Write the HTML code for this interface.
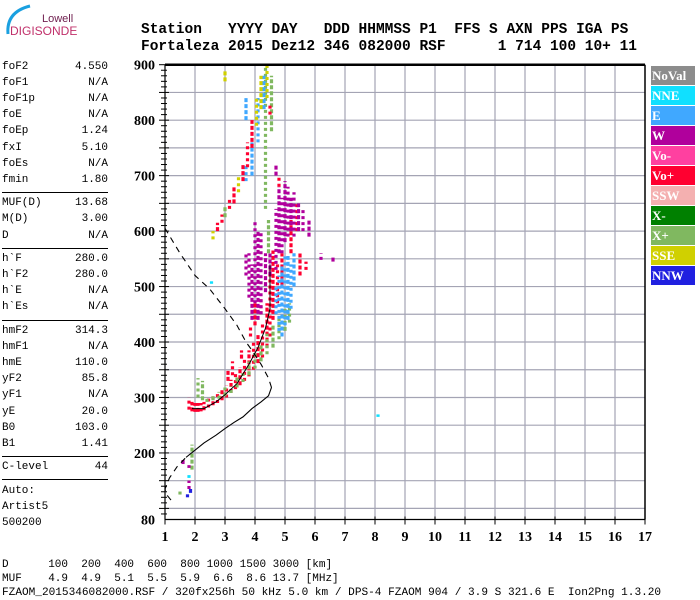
<!DOCTYPE html>
<html><head><meta charset="utf-8"><style>
body{margin:0;background:#fff;width:700px;height:600px;overflow:hidden;position:relative;font-family:"Liberation Mono",monospace}
.t{position:absolute;white-space:pre}
</style></head><body>
<svg width="700" height="600" style="position:absolute;left:0;top:0" id="svg" xmlns="http://www.w3.org/2000/svg">
<g>
<path d="M8 34 Q6 12 30 6" stroke="#1aa0e0" stroke-width="3" fill="none"/>
<text x="42" y="22" font-family="Liberation Sans,sans-serif" font-size="11" fill="#702050">Lowell</text>
<text x="10" y="35" font-family="Liberation Sans,sans-serif" font-size="12" fill="#c0306a">DIGISONDE</text>
</g>
<text x="141" y="33" font-family="Liberation Mono,monospace" font-weight="bold" font-size="14.5" xml:space="preserve">Station   YYYY DAY   DDD HHMMSS P1  FFS S AXN PPS IGA PS</text>
<text x="141" y="50" font-family="Liberation Mono,monospace" font-weight="bold" font-size="14.5" xml:space="preserve">Fortaleza 2015 Dez12 346 082000 RSF      1 714 100 10+ 11</text>
<g id="grid"></g><g id="marks"></g><g id="axes"></g><g id="legend"></g>
</svg>
<div id="panel"></div>
<div class="t" style="left:2px;top:559px;font-size:11px">D      100  200  400  600  800 1000 1500 3000 [km]</div>
<div class="t" style="left:2px;top:573px;font-size:11px">MUF    4.9  4.9  5.1  5.5  5.9  6.6  8.6 13.7 [MHz]</div>
<div class="t" style="left:2px;top:587px;font-size:11.1px">FZAOM_2015346082000.RSF / 320fx256h 50 kHz 5.0 km / DPS-4 FZAOM 904 / 3.9 S 321.6 E  Ion2Png 1.3.20</div>
<script>
const xTicks=[1,2,3,4,5,6,7,8,9,10,11,12,13,14,15,16,17];
const yTicks=[80,200,300,400,500,600,700,800,900];
const legendNames=["NoVal","NNE","E","W","Vo-","Vo+","SSW","X-","X+","SSE","NNW"];
const legendColors=["#8c8c8c","#10e0ff","#40a8ff","#b0009c","#ff40a0","#ff0030","#f4b0b0","#008000","#80b860","#d0d000","#2020e0"];
// runs: [freq MHz, hStart km, hEnd km, colorIndex]
const runsO=[[1.8,278,300,5],[1.9,275,292,5],[2.0,274,290,5],[2.1,274,290,5],[2.2,275,290,5],[2.3,277,292,5],[2.45,282,298,5],[2.6,286,302,5],[2.75,290,306,5],[2.9,295,314,5],[3.05,300,322,5],[3.2,308,332,5],[3.35,315,345,5],[3.5,322,355,5],[3.65,330,368,5],[3.8,338,385,5],[3.95,350,400,5],[4.1,362,415,5],[4.25,372,435,5],[4.4,390,470,5],[4.5,410,530,5],[4.6,440,565,5],[4.75,470,540,5],[3.1,330,350,5],[3.25,340,365,5],[3.55,370,385,5],[3.85,410,430,5],[4.0,430,470,5],[4.2,450,480,5],[5.5,520,560,5],[5.7,530,545,5],[5.2,560,620,5],[5.4,600,650,5],[4.9,500,560,5]];
const runsX=[[2.1,300,335,8],[2.25,295,330,8],[2.4,292,300,8],[2.6,295,305,8],[2.8,298,310,8],[3.0,302,318,8],[3.2,308,320,8],[3.4,318,338,8],[3.6,328,350,8],[3.8,340,365,8],[4.0,352,380,8],[4.2,365,398,8],[4.4,378,415,8],[4.6,390,430,8],[4.8,405,445,8],[5.0,420,460,8],[5.15,435,470,8],[1.9,170,215,8],[1.5,125,132,8],[4.45,560,620,8],[4.35,640,900,8],[4.55,780,880,8]];
const runsE=[[4.8,420,520,2],[4.9,410,540,2],[5.0,430,560,2],[5.1,440,555,2],[5.2,460,540,2],[5.3,500,560,2],[4.7,450,500,2],[3.9,700,760,2],[4.1,760,840,2],[4.3,820,880,2],[3.7,690,720,2],[2.55,505,508,1],[8.1,265,268,1],[1.8,155,160,1]];
const runsW=[[3.8,480,560,3],[3.9,440,540,3],[4.0,470,620,3],[4.1,440,600,3],[4.2,450,600,3],[4.35,490,560,3],[4.7,530,640,3],[4.8,560,680,3],[4.9,560,660,3],[5.0,580,690,3],[5.1,590,680,3],[5.2,600,660,3],[5.3,590,670,3],[5.45,600,650,3],[5.6,600,640,3],[5.8,590,620,3],[6.2,548,560,3],[6.6,545,555,3],[3.7,520,560,3],[4.5,520,560,3],[1.8,135,150,3],[1.6,180,188,3],[1.8,173,178,3],[4.7,700,720,3]];
const runsU=[[2.6,585,600,9],[2.75,600,615,5],[2.9,615,630,5],[3.0,625,645,8],[3.15,640,660,5],[3.3,650,680,5],[3.45,670,700,9],[3.6,690,720,5],[3.75,715,760,5],[3.9,750,800,5],[4.05,790,840,9],[4.2,820,880,9],[4.4,840,900,9],[3.7,800,840,2],[4.8,680,700,5],[3.0,870,890,9],[1.75,120,130,10],[1.85,128,135,10],[4.5,810,830,5]];
const profDash1=[[1.2,115],[1.05,125],[1.0,135],[1.15,155],[1.4,175],[1.7,192]];
const profSolid=[[1.7,192],[2.0,205],[2.3,218],[2.7,232],[3.0,244],[3.3,255],[3.6,265],[3.9,280],[4.2,292],[4.45,303],[4.55,318]];
const profDash2=[[4.55,318],[4.45,335],[4.2,360],[3.9,385],[3.7,400],[3.4,430],[3.0,460],[2.5,495],[2.0,520],[1.5,560],[1.0,605]];
const traceLine=[[1.9,280],[2.3,280],[2.7,292],[3.0,305],[3.4,325],[3.8,360],[4.1,390],[4.35,425],[4.5,460],[4.5,540]];

const NS="http://www.w3.org/2000/svg";
const X0=165,X1=645,Y0=64.7,Y1=519.5;
const fx=f=>X0+(f-1)*30;
const hy=h=>Y0+(900-h)*(Y1-Y0)/820;
function mk(tag,a,p){const e=document.createElementNS(NS,tag);for(const k in a)e.setAttribute(k,a[k]);p.appendChild(e);return e;}
const grid=document.getElementById('grid'),marks=document.getElementById('marks'),axes=document.getElementById('axes'),leg=document.getElementById('legend');
for(let f=2;f<=16;f++){const l=mk('line',{x1:fx(f),x2:fx(f),y1:Y0,y2:Y1,stroke:'#a4a4b4','stroke-width':1.2},grid);

}
for(let h=100;h<=850;h+=50){const l=mk('line',{x1:X0,x2:X1,y1:hy(h),y2:hy(h),stroke:'#a4a4b4','stroke-width':1.2},grid);

}
[runsO,runsX,runsE,runsW,runsU].forEach(rs=>rs.forEach((r,i)=>{
 const y1=hy(r[2]),y2=hy(r[1]);
 const e=mk('line',{x1:fx(r[0]),x2:fx(r[0]),y1:y2,y2:Math.min(y1,y2-2.5),stroke:legendColors[r[3]],'stroke-width':3.2,'stroke-dasharray':(i%2?'4,2':'3,3')},marks);
 
 }));
function pl(arr,dash,name,w){const e=mk('polyline',{points:arr.map(p=>fx(p[0])+','+hy(p[1])).join(' '),fill:'none',stroke:'#000','stroke-width':w||1.1},marks);
if(dash)e.setAttribute('stroke-dasharray','6,5');

}
pl(profDash1,true,'profile-dashed-low');pl(profSolid,false,'profile-solid');pl(profDash2,true,'profile-dashed-high');pl(traceLine,false,'trace-fit',1);
mk('line',{x1:X0,x2:X1,y1:Y0,y2:Y0,stroke:'#000','stroke-width':2.5},axes);
mk('line',{x1:X1,x2:X1,y1:Y0,y2:Y1,stroke:'#000','stroke-width':1.5},axes);
mk('line',{x1:X0,x2:X0,y1:Y0,y2:Y1,stroke:'#000','stroke-width':1.2},axes);
mk('line',{x1:X0,x2:X1,y1:Y1,y2:Y1,stroke:'#000','stroke-width':1.2},axes);
for(let h=90;h<=900;h+=10){const big=h%50==0;mk('line',{x1:X0-(big?6:4),x2:X0+(big?4:2),y1:hy(h),y2:hy(h),stroke:'#000','stroke-width':1},axes);}
xTicks.forEach(f=>{mk('line',{x1:fx(f),x2:fx(f),y1:Y1-3,y2:Y1+5,stroke:'#000','stroke-width':1},axes);
 const t=mk('text',{x:fx(f),y:541,'text-anchor':'middle','font-family':'Liberation Serif,serif','font-weight':'bold','font-size':14},axes);t.textContent=f;
 
 });
yTicks.forEach(h=>{const t=mk('text',{x:155,y:hy(h)+5,'text-anchor':'end','font-family':'Liberation Serif,serif','font-weight':'bold','font-size':14},axes);t.textContent=h;
 
 });
legendNames.forEach((n,i)=>{const g=mk('g',{},leg);
 
 
 mk('rect',{x:651,y:66+i*20,width:44,height:19,fill:legendColors[i]},g);
 const t=mk('text',{x:652,y:80+i*20,'font-family':'Liberation Serif,serif','font-weight':'bold','font-size':13,fill:'#fff'},g);t.textContent=n;});
const rows=[["foF2","4.550"],["foF1","N/A"],["foF1p","N/A"],["foE","N/A"],["foEp","1.24"],["fxI","5.10"],["foEs","N/A"],["fmin","1.80"],null,["MUF(D)","13.68"],["M(D)","3.00"],["D","N/A"],null,["h`F","280.0"],["h`F2","280.0"],["h`E","N/A"],["h`Es","N/A"],null,["hmF2","314.3"],["hmF1","N/A"],["hmE","110.0"],["yF2","85.8"],["yF1","N/A"],["yE","20.0"],["B0","103.0"],["B1","1.41"],null,["C-level","44"],null,["Auto:",""],["Artist5",""],["500200",""]];
const panel=document.getElementById('panel');let y=61;
rows.forEach(r=>{
 if(!r){const d=document.createElement('div');d.style.cssText='position:absolute;left:2px;width:106px;top:'+(y+2)+'px;border-top:1.5px solid #000';
 
 panel.appendChild(d);y+=7.5;return;}
 const d=document.createElement('div');d.className='t';d.style.cssText='left:2px;top:'+y+'px;font-size:11px;width:106px';
 d.innerHTML='<span>'+r[0]+'</span><span style="position:absolute;right:0">'+r[1]+'</span>';
 
 panel.appendChild(d);y+=16.1;});
</script>
</body></html>
